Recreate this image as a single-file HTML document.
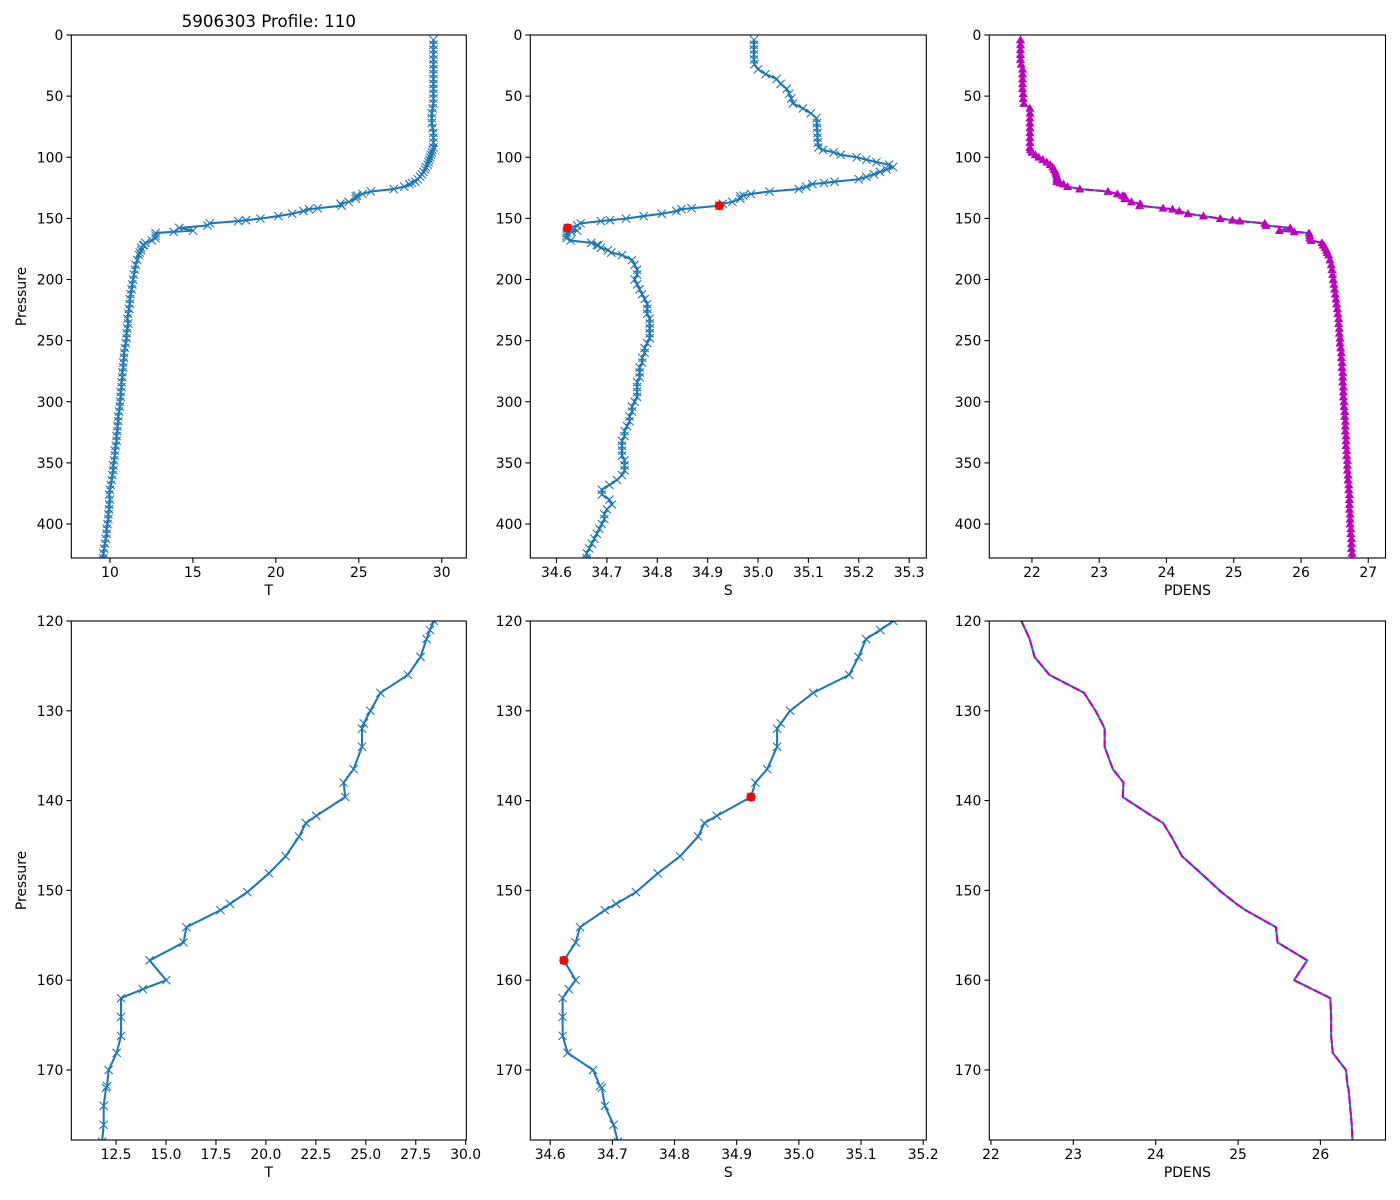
<!DOCTYPE html>
<html><head><meta charset="utf-8"><style>
html,body{margin:0;padding:0;background:#fff;width:1400px;height:1200px;overflow:hidden;}
svg{display:block;font-family:"DejaVu Sans","Liberation Sans",sans-serif;}
</style></head><body>
<svg id="fig" width="1400" height="1200" viewBox="0 0 1400 1200" xmlns="http://www.w3.org/2000/svg">
<rect width="1400" height="1200" fill="#fff"/>
<text x="268.8" y="27" font-size="16.7" text-anchor="middle">5906303 Profile: 110</text>
</svg>
<script>
// ---- data ----
const presUpper=[4,8,12,16,20,24,28,32,36,40,44,48,52,56,60,64,68,72,76,80,84,88,92,94,96,98,100,102,104,106,108,110,112,114,116,118];
const tempUpper=[29.5,29.5,29.5,29.5,29.5,29.5,29.5,29.5,29.5,29.5,29.5,29.5,29.5,29.5,29.45,29.4,29.4,29.4,29.45,29.5,29.5,29.5,29.5,29.45,29.4,29.35,29.3,29.25,29.2,29.15,29.05,29.0,28.9,28.8,28.7,28.55];
const salUpper=[34.992,34.992,34.992,34.992,34.992,34.993,35.0,35.015,35.037,35.045,35.057,35.062,35.066,35.069,35.089,35.105,35.116,35.117,35.117,35.118,35.118,35.119,35.12,35.129,35.15,35.164,35.196,35.215,35.235,35.26,35.268,35.255,35.242,35.23,35.215,35.2];
const pdensUpper=[21.83,21.83,21.83,21.83,21.83,21.84,21.86,21.86,21.86,21.86,21.86,21.87,21.87,21.88,21.97,21.97,21.97,21.97,21.97,21.97,21.97,21.97,21.97,21.98,22.0,22.05,22.1,22.16,22.22,22.27,22.31,22.33,22.35,22.36,22.37,22.37];

const presMid=[120,121,122,124,126,128,130,131.4,132,134,136.5,138,139.6,141.7,142.5,144,146.2,148.1,150.2,151.5,152.2,154.1,155.8,157.8,160,161,162,164.1,166.2,168.1,170,171.8,172,174,176.1,178];
const tempMid=[28.41,28.21,28.04,27.74,27.11,25.73,25.23,24.9,24.81,24.81,24.39,23.89,23.97,22.52,22.0,21.66,20.99,20.15,19.07,18.2,17.73,16.02,15.88,14.18,15.01,13.84,12.75,12.75,12.75,12.53,12.13,12.05,12.0,11.88,11.88,11.8];
const salMid=[35.152,35.131,35.108,35.096,35.081,35.023,34.986,34.971,34.965,34.965,34.949,34.93,34.923,34.868,34.848,34.838,34.809,34.773,34.738,34.706,34.688,34.648,34.641,34.622,34.641,34.63,34.62,34.62,34.62,34.628,34.669,34.68,34.683,34.688,34.702,34.709];
const pdensMid=[22.37,22.42,22.47,22.53,22.71,23.13,23.27,23.35,23.38,23.38,23.48,23.61,23.6,23.95,24.09,24.19,24.32,24.55,24.8,24.98,25.09,25.46,25.48,25.84,25.68,25.9,26.12,26.13,26.13,26.15,26.31,26.33,26.34,26.36,26.38,26.39];

const presDeep=[180,184,188,192,196,200,204,208,212,216,220,224,228,232,236,240,244,248,252,256,260,264,268,272,276,280,284,288,292,296,300,304,308,312,316,320,324,328,332,336,340,344,348,352,356,360,364,368,372,376,380,384,388,392,396,400,404,408,412,416,420,424,428];
const tempDeep=[11.75,11.65,11.55,11.5,11.45,11.4,11.35,11.3,11.25,11.2,11.2,11.15,11.1,11.05,11.1,11.05,11.0,11.0,10.95,10.9,10.85,10.85,10.8,10.8,10.75,10.75,10.7,10.7,10.65,10.65,10.6,10.6,10.55,10.5,10.5,10.45,10.45,10.4,10.4,10.35,10.3,10.3,10.25,10.2,10.2,10.15,10.1,10.05,10.0,9.95,10.0,9.95,9.95,9.9,9.9,9.85,9.8,9.8,9.75,9.7,9.65,9.6,9.6];
const salDeep=[34.73,34.75,34.755,34.76,34.76,34.755,34.76,34.765,34.77,34.775,34.78,34.78,34.78,34.785,34.785,34.785,34.785,34.785,34.78,34.775,34.775,34.77,34.77,34.765,34.765,34.765,34.76,34.76,34.76,34.76,34.755,34.75,34.75,34.745,34.745,34.74,34.735,34.735,34.73,34.73,34.73,34.73,34.735,34.735,34.735,34.73,34.72,34.705,34.69,34.69,34.705,34.71,34.7,34.695,34.695,34.69,34.685,34.68,34.675,34.67,34.665,34.66,34.66];
const pdensDeep=[26.41,26.43,26.45,26.46,26.47,26.48,26.49,26.5,26.51,26.52,26.53,26.54,26.55,26.56,26.56,26.57,26.57,26.58,26.58,26.59,26.6,26.6,26.61,26.61,26.62,26.62,26.62,26.63,26.63,26.63,26.64,26.64,26.65,26.65,26.66,26.66,26.66,26.67,26.67,26.67,26.68,26.68,26.69,26.69,26.69,26.7,26.7,26.71,26.71,26.72,26.72,26.72,26.72,26.73,26.73,26.73,26.74,26.74,26.75,26.75,26.75,26.76,26.76];

const redPres=[139.6,157.8];
const redSal=[34.923,34.622];

const topYTicks=[0,50,100,150,200,250,300,350,400];
const botYTicks=[120,130,140,150,160,170];
const topTTicks=[10,15,20,25,30];
const topSTicks=[34.6,34.7,34.8,34.9,35.0,35.1,35.2,35.3];
const topDTicks=[22,23,24,25,26,27];
const botTTicks=[12.5,15.0,17.5,20.0,22.5,25.0,27.5,30.0];
const botSTicks=[34.6,34.7,34.8,34.9,35.0,35.1,35.2];
const botDTicks=[22,23,24,25,26];

const presAll=presUpper.concat(presMid,presDeep);
const tempAll=tempUpper.concat(tempMid,tempDeep);
const salAll=salUpper.concat(salMid,salDeep);
const pdensAll=pdensUpper.concat(pdensMid,pdensDeep);

// ---- drawing ----
const NS="http://www.w3.org/2000/svg";
const svg=document.getElementById('fig');
const BLUE="#1f77b4", MAG="#bf00bf";
function mk(tag,attrs,parent){const e=document.createElementNS(NS,tag);for(const k in attrs)e.setAttribute(k,attrs[k]);(parent||svg).appendChild(e);return e;}
function lin(d0,d1,r0,r1){return v=>r0+(v-d0)*(r1-r0)/(d1-d0);}

let clipId=0;
function panel(cfg){
  const g=mk('g',{});
  
  
  const xs=lin(cfg.xd[0],cfg.xd[1],cfg.x0,cfg.x1);
  const ys=lin(cfg.yd[0],cfg.yd[1],cfg.y0,cfg.y1);
  const cid='clip'+(clipId++);
  const cp=mk('clipPath',{id:cid},g);
  mk('rect',{x:cfg.x0,y:cfg.y0,width:cfg.x1-cfg.x0,height:cfg.y1-cfg.y0},cp);
  const plot=mk('g',{'clip-path':'url(#'+cid+')'},g);
  
  
  cfg.draw(plot,xs,ys);
  const fr=mk('rect',{x:cfg.x0,y:cfg.y0,width:cfg.x1-cfg.x0,height:cfg.y1-cfg.y0,fill:'none',stroke:'#000','stroke-width':1.1},g);
  
  
  cfg.xt.forEach(t=>{
    const x=xs(t);
    mk('line',{x1:x,x2:x,y1:cfg.y1,y2:cfg.y1+4.9,stroke:'#000','stroke-width':1.1},g);
    const tx=mk('text',{x:x,y:cfg.y1+19,'font-size':13.9,'text-anchor':'middle'},g);
    
    
    tx.textContent=cfg.xfmt(t);
  });
  cfg.yt.forEach(t=>{
    const y=ys(t);
    mk('line',{x1:cfg.x0-4.9,x2:cfg.x0,y1:y,y2:y,stroke:'#000','stroke-width':1.1},g);
    const tx=mk('text',{x:cfg.x0-8,y:y+5,'font-size':13.9,'text-anchor':'end'},g);
    
    
    tx.textContent=String(t);
  });
  const xl=mk('text',{x:(cfg.x0+cfg.x1)/2,y:cfg.y1+37,'font-size':13.9,'text-anchor':'middle'},g);
  
  
  xl.textContent=cfg.xlabel;
  if(cfg.ylabel){
    const cy=(cfg.y0+cfg.y1)/2;
    const yl=mk('text',{x:26,y:cy,'font-size':13.9,'text-anchor':'middle',transform:'rotate(-90 26 '+cy+')'},g);
    
    
    yl.textContent=cfg.ylabel;
  }
}
function line(p,xs,ys,xv,pv,color,dash,name){
  const d=xv.map((v,i)=>(i?'L':'M')+xs(v).toFixed(2)+' '+ys(pv[i]).toFixed(2)).join('');
  const a={d:d,fill:'none',stroke:color,'stroke-width':2.08,'stroke-linejoin':'round'};
  if(dash)a['stroke-dasharray']=dash;
  const e=mk('path',a,p);
  
  
}
function xmarks(p,xs,ys,xv,pv,name){
  const s=4.1;let d='';
  xv.forEach((v,i)=>{const x=xs(v),y=ys(pv[i]);d+='M'+(x-s)+' '+(y-s)+'L'+(x+s)+' '+(y+s)+'M'+(x-s)+' '+(y+s)+'L'+(x+s)+' '+(y-s);});
  const e=mk('path',{d:d,fill:'none',stroke:BLUE,'stroke-width':1.1},p);
  
  
}
function tris(p,xs,ys,xv,pv){
  const s=4.2;let d='';
  xv.forEach((v,i)=>{const x=xs(v),y=ys(pv[i]);d+='M'+x+' '+(y-s)+'L'+(x+s)+' '+(y+s*0.75)+'L'+(x-s)+' '+(y+s*0.75)+'Z';});
  const e=mk('path',{d:d,fill:MAG,stroke:MAG,'stroke-width':0.5},p);
  
  
}
function reds(p,xs,ys){
  redSal.forEach((v,i)=>{
    const c=mk('circle',{cx:xs(v),cy:ys(redPres[i]),r:4.6,fill:'#ff0000'},p);
    
    
  });
}
const T0=35,T1=558,B0=621,B1=1140;
const C=[[71.3,466.3],[530.3,926.3],[989.3,1385.5]];
const f0=t=>String(t), f1=t=>t.toFixed(1);

panel({name:'temp-profile-full',x0:C[0][0],x1:C[0][1],y0:T0,y1:T1,xd:[7.67,31.48],yd:[0,427.8],xt:topTTicks,yt:topYTicks,xfmt:f0,xlabel:'T',ylabel:'Pressure',
  draw:(p,xs,ys)=>{line(p,xs,ys,tempAll,presAll,BLUE,null,'temp-line');xmarks(p,xs,ys,tempAll,presAll,'temp-markers');}});
panel({name:'sal-profile-full',x0:C[1][0],x1:C[1][1],y0:T0,y1:T1,xd:[34.548,35.334],yd:[0,427.8],xt:topSTicks,yt:topYTicks,xfmt:f1,xlabel:'S',
  draw:(p,xs,ys)=>{line(p,xs,ys,salAll,presAll,BLUE,null,'sal-line');xmarks(p,xs,ys,salAll,presAll,'sal-markers');reds(p,xs,ys);}});
panel({name:'pdens-profile-full',x0:C[2][0],x1:C[2][1],y0:T0,y1:T1,xd:[21.366,27.256],yd:[0,427.8],xt:topDTicks,yt:topYTicks,xfmt:f0,xlabel:'PDENS',
  draw:(p,xs,ys)=>{line(p,xs,ys,pdensAll,presAll,BLUE,null,'pdens-line');line(p,xs,ys,pdensAll,presAll,MAG,'7.7 3.3','pdens-dashed-line');tris(p,xs,ys,pdensAll,presAll);}});
panel({name:'temp-profile-zoom',x0:C[0][0],x1:C[0][1],y0:B0,y1:B1,xd:[10.26,30.03],yd:[120,177.8],xt:botTTicks,yt:botYTicks,xfmt:f1,xlabel:'T',ylabel:'Pressure',
  draw:(p,xs,ys)=>{line(p,xs,ys,tempAll,presAll,BLUE,null,'temp-zoom-line');xmarks(p,xs,ys,tempAll,presAll,'temp-zoom-markers');}});
panel({name:'sal-profile-zoom',x0:C[1][0],x1:C[1][1],y0:B0,y1:B1,xd:[34.568,35.205],yd:[120,177.8],xt:botSTicks,yt:botYTicks,xfmt:f1,xlabel:'S',
  draw:(p,xs,ys)=>{line(p,xs,ys,salAll,presAll,BLUE,null,'sal-zoom-line');xmarks(p,xs,ys,salAll,presAll,'sal-zoom-markers');reds(p,xs,ys);}});
panel({name:'pdens-profile-zoom',x0:C[2][0],x1:C[2][1],y0:B0,y1:B1,xd:[21.98,26.79],yd:[120,177.8],xt:botDTicks,yt:botYTicks,xfmt:f0,xlabel:'PDENS',
  draw:(p,xs,ys)=>{line(p,xs,ys,pdensAll,presAll,BLUE,null,'pdens-zoom-line');line(p,xs,ys,pdensAll,presAll,MAG,'7.7 3.3','pdens-zoom-dashed-line');}});
</script>
</body></html>
